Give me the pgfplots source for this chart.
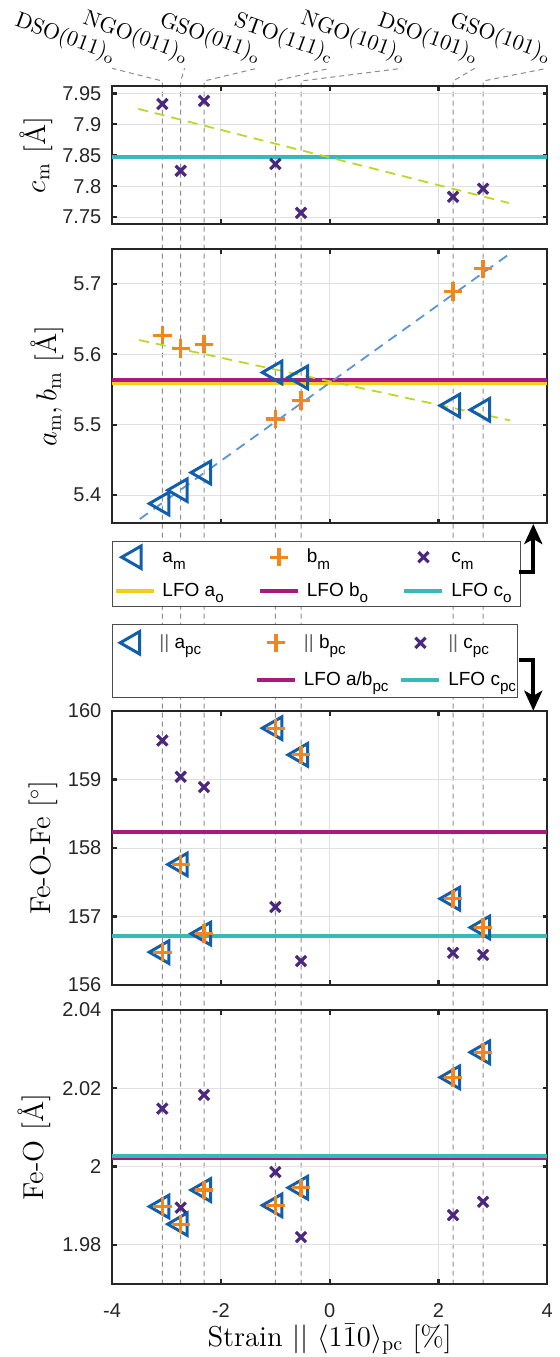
\documentclass[border=0pt]{standalone}
\usepackage{fontspec}
\newfontfamily\helv{Liberation Sans}
\usepackage{pgfplots}
\pgfplotsset{compat=1.18}
\usetikzlibrary{arrows.meta}

\definecolor{cA}{RGB}{16,94,172}
\definecolor{cB}{RGB}{242,133,29}
\definecolor{cC}{RGB}{75,40,125}
\definecolor{cY}{RGB}{245,205,30}
\definecolor{cM}{RGB}{170,25,125}
\definecolor{cT}{RGB}{55,185,185}
\definecolor{cG}{RGB}{190,214,40}
\definecolor{cL}{RGB}{90,150,215}
\definecolor{dgray}{RGB}{140,140,140}
\definecolor{frame}{RGB}{38,38,38}

\newcommand{\sub}[1]{\raisebox{-3.2pt}{\fontsize{7.6}{8}\selectfont #1}}
\newcommand{\lboxA}[1]{\makebox[51.2pt][l]{\hspace*{3.4pt}#1}}
\newcommand{\lboxB}[1]{\makebox[37.4pt][l]{\hspace*{3.4pt}#1}}

\pgfplotsset{
  mA/.style={only marks, mark=triangle, mark size=6.5pt, color=cA, mark options={rotate=90, line width=1.5pt, draw=cA, solid, fill=none}},
  mB/.style={only marks, mark=+, mark size=4.6pt, color=cB, mark options={line width=1.6pt, draw=cB, solid}},
  mC/.style={only marks, mark=x, mark size=3.6pt, color=cC, mark options={line width=1.6pt, draw=cC, solid}},
  hl/.style={line width=2pt, draw=#1, color=#1, no marks},
  fitl/.style={line width=0.9pt, draw=#1, dash pattern=on 5pt off 3.5pt, no marks},
  sline/.style={line width=0.5pt, draw=dgray, dash pattern=on 2.5pt off 2pt, no marks},
  panel/.style={
    scale only axis, width=217.65pt,
    xmin=-4, xmax=4, xtick={-4,-2,0,2,4}, xticklabels={},
    axis line style={line width=1.1pt, draw=frame},
    tick style={line width=1.1pt, draw=frame},
    major tick length=2.3pt, tick align=inside, tick pos=both,
    grid=major, major grid style={draw=black!12, line width=0.5pt},
    tick label style={font={\helv\fontsize{10}{12}\selectfont}, text=frame},
    yticklabel style={inner xsep=5.15pt},
    xticklabel style={inner ysep=9.5pt},
    /pgf/number format/assume math mode=true,
    label style={font={\fontsize{14.4}{17}\selectfont}},
    legend image code/.code={\path (0pt,0pt) (19pt,0pt); \draw[mark repeat=2,mark phase=2,##1] plot coordinates {(0pt,0pt) (9.5pt,0pt) (19pt,0pt)};},
    legend columns=3,
    legend cell align=left,
  },
  leg/.style={legend style={
    draw=black!70, line width=0.5pt, fill=white,
    font={\helv\fontsize{9.5}{11}\selectfont},
    nodes={inner sep=0pt, anchor=west, text height=8.55pt, text depth=2.85pt},
    /tikz/column sep=0pt,
    /tikz/every odd column/.style={column sep=0pt},
    /tikz/every even column/.style={column sep=0pt},
  }},
}

\begin{document}
\begin{tikzpicture}
\path[use as bounding box] (0,0) rectangle (280pt,-678.5pt);

% background axis: substrate lines and labels
\begin{axis}[at={(56pt,-40.5pt)}, anchor=north west, scale only axis,
  width=217.65pt, height=601.75pt, xmin=-4, xmax=4, ymin=0, ymax=1,
  hide axis, clip=false]
\addplot[sline] coordinates {(-3.075,0) (-3.075,1) (-4,1.01055)};
\addplot[sline] coordinates {(-2.737,0) (-2.737,1) (-2.6667,1.01055)};
\addplot[sline] coordinates {(-2.309,0) (-2.309,1) (-1.3333,1.01055)};
\addplot[sline] coordinates {(-0.998,0) (-0.998,1) (0,1.01055)};
\addplot[sline] coordinates {(-0.526,0) (-0.526,1) (1.3333,1.01055)};
\addplot[sline] coordinates {(2.268,0) (2.268,1) (2.6667,1.01055)};
\addplot[sline] coordinates {(2.820,0) (2.820,1) (4,1.01055)};
\end{axis}
\begin{scope}[every node/.style={rotate=-20, anchor=south east, inner sep=0.5pt, font={\fontsize{10.95}{13}\selectfont}}]
\node at (56pt,-34.15pt) {DSO(011)$_\mathrm{o}$};
\node at (92.275pt,-34.15pt) {NGO(011)$_\mathrm{o}$};
\node at (128.55pt,-34.15pt) {GSO(011)$_\mathrm{o}$};
\node at (164.825pt,-34.15pt) {STO(111)$_\mathrm{c}$};
\node at (201.1pt,-34.15pt) {NGO(101)$_\mathrm{o}$};
\node at (237.375pt,-34.15pt) {DSO(101)$_\mathrm{o}$};
\node at (273.65pt,-34.15pt) {GSO(101)$_\mathrm{o}$};
\end{scope}

% Panel 1: c_m
\begin{axis}[panel, at={(56pt,-43pt)}, anchor=north west, height=69pt,
  ymin=7.739, ymax=7.962, ytick={7.75,7.8,7.85,7.9,7.95},
  yticklabels={7.75,7.8,7.85,7.9,7.95},
  ylabel={$c_\mathrm{m}$ [\AA]},
  ylabel style={at={(axis description cs:-0.1539,0.5)}, anchor=base}]
\addplot[hl=cT] coordinates {(-4,7.847) (4,7.847)};
\addplot[fitl=cG] coordinates {(-3.517,7.925) (3.292,7.773)};
\addplot[mC] coordinates {(-3.075,7.933) (-2.737,7.825) (-2.309,7.938) (-0.998,7.836) (-0.526,7.757) (2.268,7.783) (2.820,7.796)};
\end{axis}

% Panel 2: a_m, b_m
\begin{axis}[panel, leg, at={(56pt,-124.65pt)}, anchor=north west, height=137pt,
  ymin=5.36, ymax=5.7487, ytick={5.4,5.5,5.6,5.7},
  ylabel={$a_\mathrm{m}, b_\mathrm{m}$ [\AA]},
  ylabel style={at={(axis description cs:-0.1275,0.5)}, anchor=base},
  legend style={at={(axis description cs:0,0)}, anchor=north west, yshift=-8.7pt,
    inner xsep=0.6pt, inner ysep=2.3pt, row sep=5.25pt}]
\addlegendimage{mA}\addlegendentry{\lboxA{a\sub{m}}}
\addlegendimage{mB}\addlegendentry{\lboxA{b\sub{m}}}
\addlegendimage{mC}\addlegendentry{\lboxB{c\sub{m}}}
\addlegendimage{hl=cY}\addlegendentry{\lboxA{LFO a\sub{o}}}
\addlegendimage{hl=cM}\addlegendentry{\lboxA{LFO b\sub{o}}}
\addlegendimage{hl=cT}\addlegendentry{\lboxB{LFO c\sub{o}}}
\addplot[hl=cY, forget plot] coordinates {(-4,5.559) (4,5.559)};
\addplot[hl=cM, forget plot] coordinates {(-4,5.563) (4,5.563)};
\addplot[fitl=cL, forget plot] coordinates {(-3.49,5.366) (3.32,5.743)};
\addplot[fitl=cG, forget plot] coordinates {(-3.50,5.620) (3.32,5.506)};
\addplot[mA, forget plot] coordinates {(-3.075,5.388) (-2.737,5.407) (-2.309,5.432) (-0.998,5.574) (-0.526,5.567) (2.268,5.527) (2.820,5.521)};
\addplot[mB, forget plot] coordinates {(-3.075,5.627) (-2.737,5.608) (-2.309,5.614) (-0.998,5.508) (-0.526,5.534) (2.268,5.689) (2.820,5.721)};
\end{axis}

% Panel 3: Fe-O-Fe
\begin{axis}[panel, leg, at={(56pt,-355.5pt)}, anchor=north west, height=137pt,
  ymin=156, ymax=160, ytick={156,157,158,159,160},
  ylabel={Fe-O-Fe [$^\circ$]},
  ylabel style={at={(axis description cs:-0.1424,0.5)}, anchor=base},
  legend style={at={(axis description cs:0,1)}, anchor=north west, yshift=43.5pt,
    inner xsep=0.6pt, inner ysep=3.45pt, row sep=6.95pt}]
\addlegendimage{mA}\addlegendentry{\lboxA{\textcolor{black!60}{||} a\sub{pc}}}
\addlegendimage{mB}\addlegendentry{\lboxA{\textcolor{black!60}{||} b\sub{pc}}}
\addlegendimage{mC}\addlegendentry{\lboxB{\textcolor{black!60}{||} c\sub{pc}}}
\addlegendimage{empty legend}\addlegendentry{\lboxA{}}
\addlegendimage{hl=cM}\addlegendentry{\lboxA{LFO a/b\sub{pc}}}
\addlegendimage{hl=cT}\addlegendentry{\lboxB{LFO c\sub{pc}}}
\addplot[hl=cM, forget plot] coordinates {(-4,158.24) (4,158.24)};
\addplot[hl=cT, forget plot] coordinates {(-4,156.71) (4,156.71)};
\addplot[mA, forget plot] coordinates {(-3.075,156.48) (-2.737,157.76) (-2.309,156.75) (-0.998,159.75) (-0.526,159.36) (2.268,157.26) (2.820,156.84)};
\addplot[mB, forget plot] coordinates {(-3.075,156.48) (-2.737,157.76) (-2.309,156.75) (-0.998,159.75) (-0.526,159.36) (2.268,157.26) (2.820,156.84)};
\addplot[mC, forget plot] coordinates {(-3.075,159.57) (-2.737,159.04) (-2.309,158.89) (-0.998,157.14) (-0.526,156.35) (2.268,156.47) (2.820,156.44)};
\end{axis}

% Panel 4: Fe-O
\begin{axis}[panel, at={(56pt,-505pt)}, anchor=north west, height=137pt,
  ymin=1.97, ymax=2.04, ytick={1.98,2,2.02,2.04},
  yticklabels={1.98,2,2.02,2.04},
  xticklabels={-4,-2,0,2,4},
  ylabel={Fe-O [\AA]},
  ylabel style={at={(axis description cs:-0.1574,0.5)}, anchor=base},
  xlabel={Strain $||$ $\langle 1\bar{1}0\rangle_\mathrm{pc}$ [\%]},
  xlabel style={at={(axis description cs:0.5,-0.2285)}, anchor=base}]
\addplot[hl=cM] coordinates {(-4,2.0022) (4,2.0022)};
\addplot[hl=cT] coordinates {(-4,2.0028) (4,2.0028)};
\addplot[mA] coordinates {(-3.075,1.9898) (-2.737,1.9853) (-2.309,1.9940) (-0.998,1.9901) (-0.526,1.9946) (2.268,2.0228) (2.820,2.0292)};
\addplot[mB] coordinates {(-3.075,1.9898) (-2.737,1.9853) (-2.309,1.9940) (-0.998,1.9901) (-0.526,1.9946) (2.268,2.0228) (2.820,2.0292)};
\addplot[mC] coordinates {(-3.075,2.0148) (-2.737,1.9895) (-2.309,2.0183) (-0.998,1.9986) (-0.526,1.9820) (2.268,1.9876) (2.820,1.9910)};
\end{axis}

% linking arrows
\draw[line width=2.1pt, black, line join=miter, -{Stealth[length=10pt,width=9pt,inset=2.5pt]}]
  (259.65pt,-285.85pt) -- (266.65pt,-285.85pt) -- (266.65pt,-262pt);
\draw[line width=2.1pt, black, line join=miter, -{Stealth[length=10pt,width=9pt,inset=2.5pt]}]
  (259.65pt,-330pt) -- (266.65pt,-330pt) -- (266.65pt,-355.35pt);
\end{tikzpicture}
\end{document}
